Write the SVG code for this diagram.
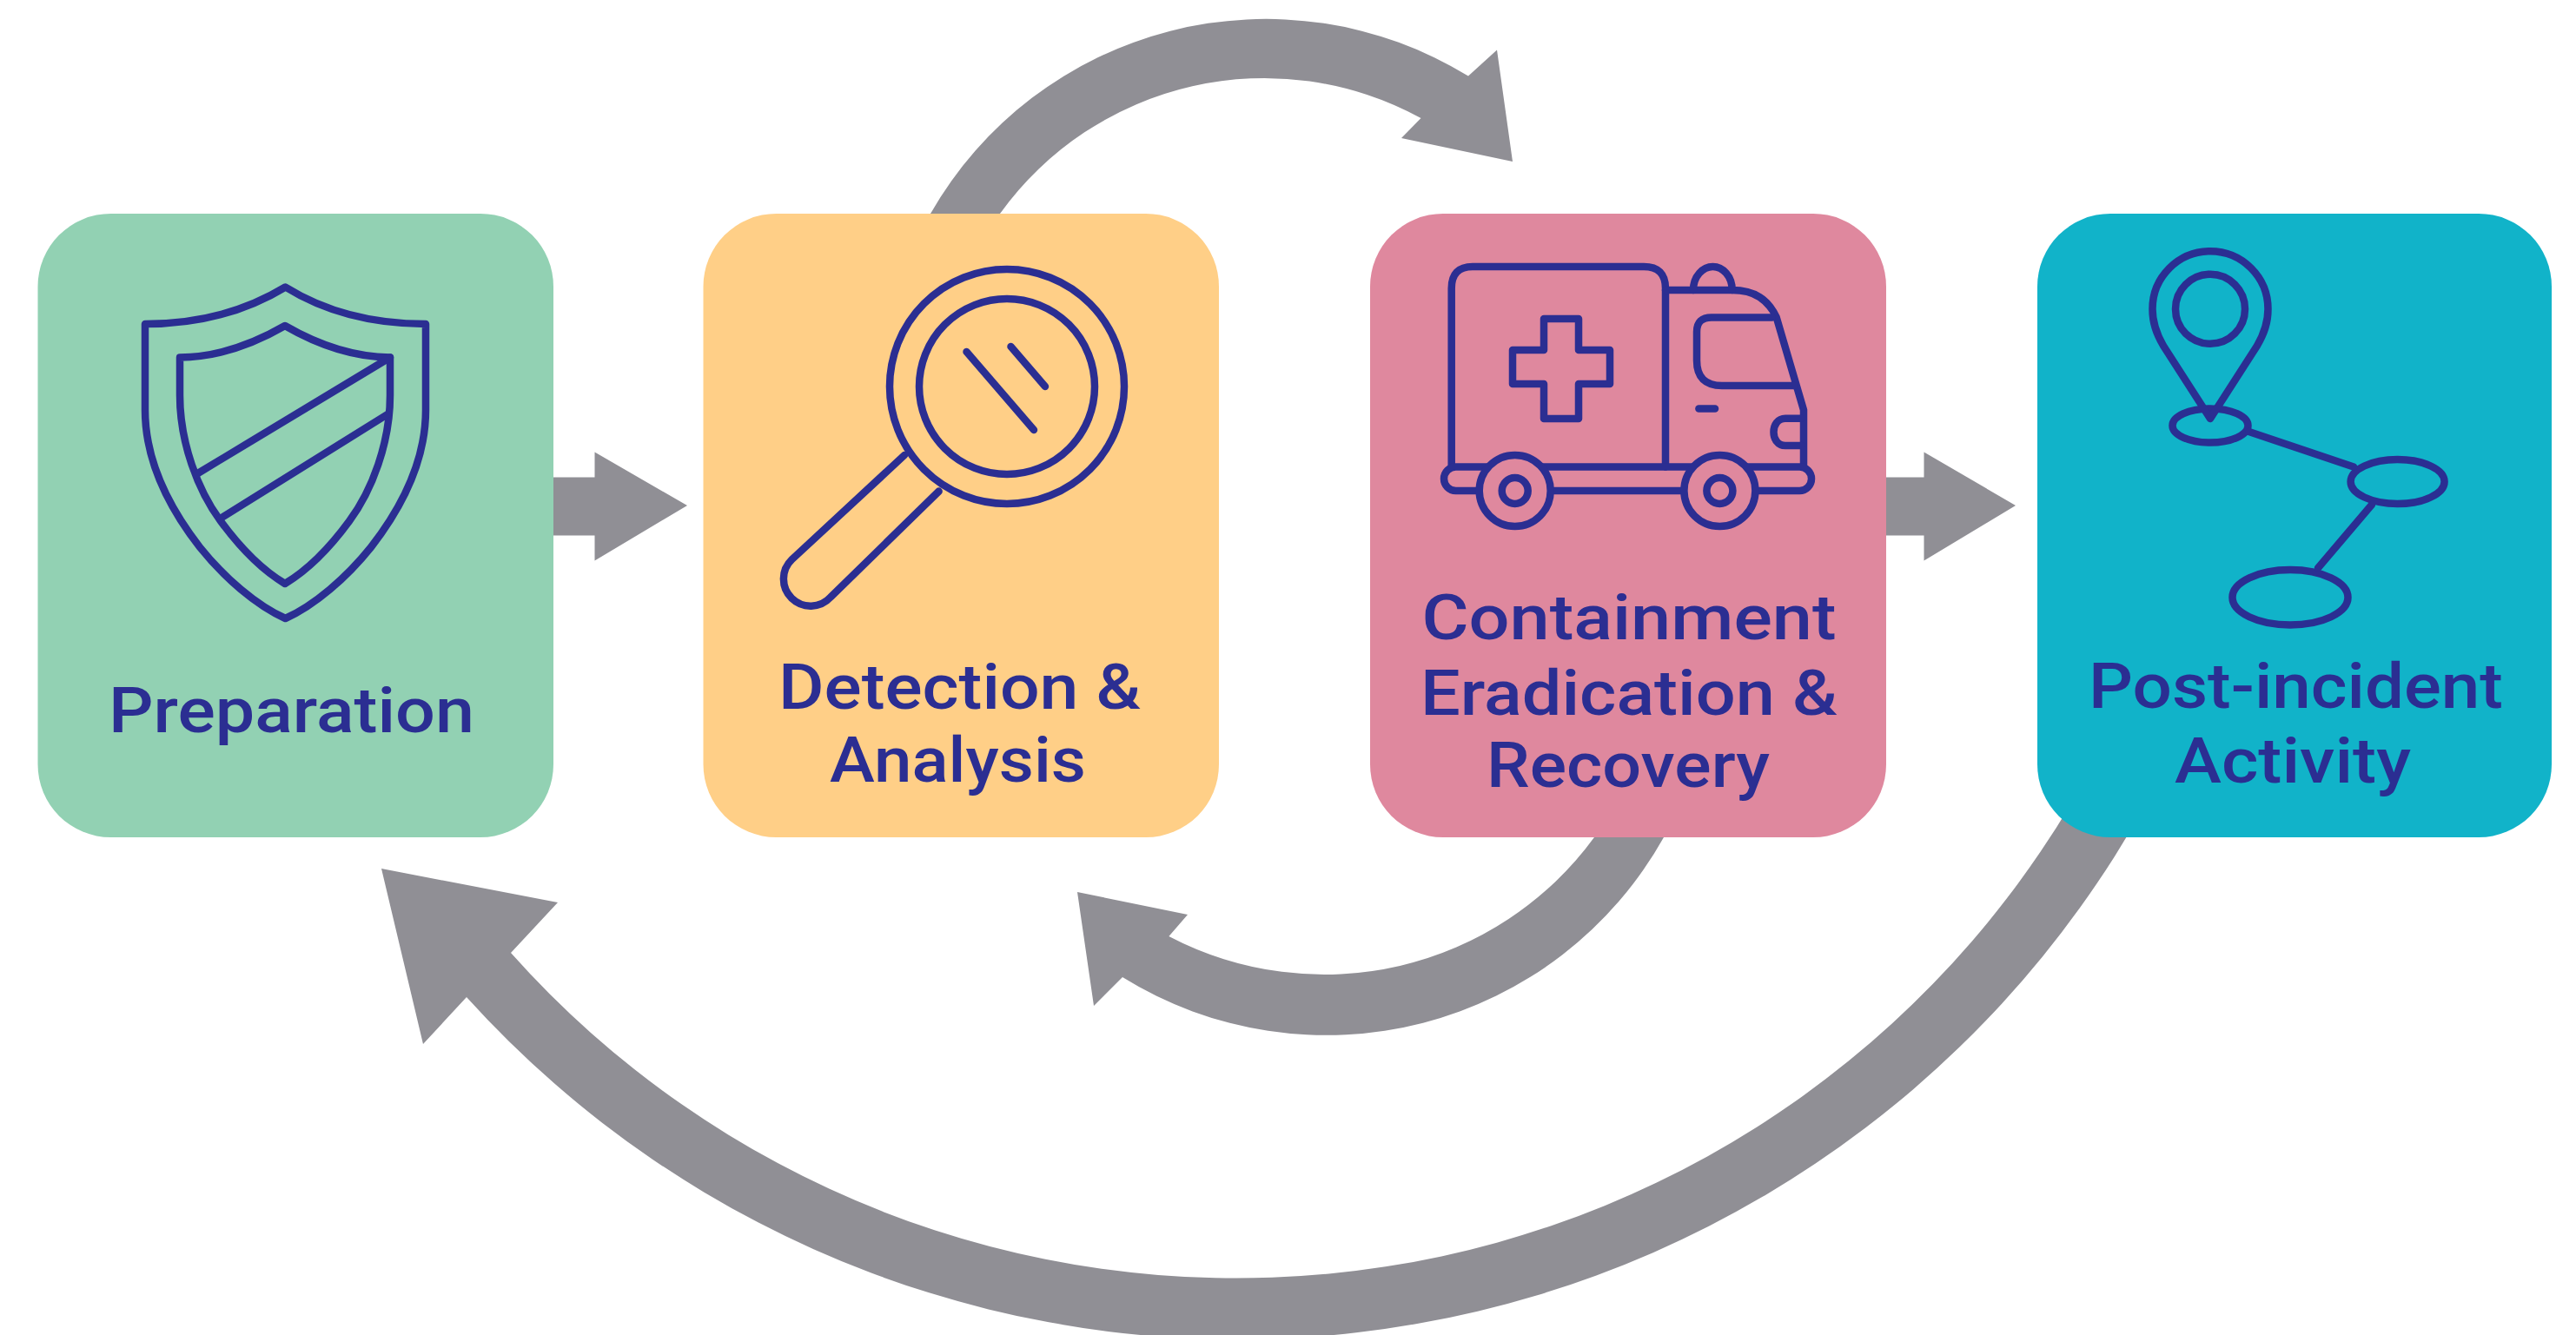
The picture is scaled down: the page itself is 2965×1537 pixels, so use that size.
<svg xmlns="http://www.w3.org/2000/svg" width="2965" height="1537" viewBox="0 0 2965 1537">
<style>
.arrow{fill:#908f95;stroke:none}
.box{stroke:none}
.ic{fill:none;stroke:#2b2e92;stroke-width:8.500;stroke-linejoin:round;stroke-linecap:round}
.lb{font-family:"Roboto","Lato","Liberation Sans",sans-serif;font-weight:500;font-size:72px;fill:#2b2e92;text-anchor:middle;font-variant-ligatures:none}
</style>
<rect width="2965" height="1537" fill="#ffffff"/>
<g id="connectors">
<path class="arrow" d="M630,549.600H684.500V520.500L791,582L684.500,645.600V616.500H630Z"/>
<path class="arrow" d="M2165,549.600H2214.500V520.500L2320,582L2214.500,645.600V616.500H2165Z"/>
<path class="arrow" d="M1071,246A445,445 0 0 1 1690,87.500L1723,57.500L1741,186L1613,159L1635.500,136A375,375 0 0 0 1151,246L1140,262H1062Z"/>
<path class="arrow" d="M1915,964A445,445 0 0 1 1292,1125L1259,1158L1240,1027L1367,1053L1345.400,1078A385,385 0 0 0 1835,964L1845,945H1925Z"/>
<path class="arrow" d="M2470,925A1195,1195 0 0 1 537,1148L487,1202L439,1000L642,1039L588,1097A1118,1118 0 0 0 2384,925Z"/>
</g>
<g id="node-preparation">
<rect class="box" x="43.500" y="246" width="593.500" height="718" rx="84" fill="#92d1b3"/>
<path class="ic" d="M328.500,330.500C280,360 225,373 167,373V472C167,530 195,585 230,630C258,665 295,697 328.500,712C362,697 399,665 427,630C462,585 490,530 490,472V373C431,373 376,360 328.500,330.500Z"/>
<path class="ic" d="M328,375C290,397 250,411 207,411.500V455C207,510 228,565 254,600C276,630 303,657 328,672C353,657 380,630 402,600C428,565 449,510 449,455V411.500C406,411 366,397 328,375Z"/>
<path class="ic" d="M449,411.500L226,546M446,477L253.600,597"/>
<text class="lb" x="335.500" y="843" textLength="421" lengthAdjust="spacingAndGlyphs">Preparation</text>
</g>
<g id="node-detection">
<rect class="box" x="809.500" y="246" width="593.500" height="718" rx="84" fill="#ffcf87"/>
<circle class="ic" cx="1159" cy="445" r="135"/>
<circle class="ic" cx="1159" cy="445" r="101"/>
<path class="ic" d="M1112.500,405L1190,495M1163.500,399L1203,445"/>
<path class="ic" d="M1041,524L911.600,644A31.100,31.100 0 1 0 956,687.500L1080.600,565.600"/>
<text class="lb" x="1104.500" y="815.600" textLength="417" lengthAdjust="spacingAndGlyphs">Detection &amp;</text>
<text class="lb" x="1102.500" y="900" textLength="295" lengthAdjust="spacingAndGlyphs">Analysis</text>
</g>
<g id="node-containment">
<rect class="box" x="1577" y="246" width="594" height="718" rx="84" fill="#df889e"/>
<path class="ic" d="M1670.700,537.500V332Q1670.700,307 1695,307H1892Q1917,307 1917,332V537.500"/>
<path class="ic" d="M1917,334H1993.700C2020,334 2035,345 2044.700,365.400L2076,472V537.500"/>
<path class="ic" d="M1949,334C1949,318 1960,307 1971.500,307C1983,307 1993.700,318 1993.700,334"/>
<path class="ic" d="M2039.600,365.400H1970Q1953,365.400 1953,382V415Q1953,444 1982,444H2065"/>
<path class="ic" d="M1955.400,470.600H1974"/>
<path class="ic" d="M2072.800,481.800H2055C2037,481.800 2037,513 2055,513H2072.800"/>
<path class="ic" d="M1777,367H1817V403H1853V442H1817V482H1777V442H1741V403H1777Z"/>
<rect class="ic" x="1662" y="537.500" width="423" height="27.500" rx="13.700"/>
<circle class="ic" cx="1743.700" cy="565" r="41" style="fill:#df889e"/>
<circle class="ic" cx="1743.700" cy="565" r="15"/>
<circle class="ic" cx="1979.400" cy="565" r="41" style="fill:#df889e"/>
<circle class="ic" cx="1979.400" cy="565" r="15"/>
<text class="lb" x="1875" y="736" textLength="477" lengthAdjust="spacingAndGlyphs">Containment</text>
<text class="lb" x="1875" y="822.500" textLength="480" lengthAdjust="spacingAndGlyphs">Eradication &amp;</text>
<text class="lb" x="1874" y="906" textLength="326" lengthAdjust="spacingAndGlyphs">Recovery</text>
</g>
<g id="node-post-incident">
<rect class="box" x="2345" y="246" width="592" height="718" rx="84" fill="#11b3c9"/>
<ellipse class="ic" cx="2544" cy="490" rx="43.500" ry="19.500"/>
<path class="ic" d="M2544,482L2490,398C2482,384 2477.500,372 2477.500,355.700A66.500,66.500 0 0 1 2610.500,355.700C2610.500,372 2606,384 2598,398Z"/>
<circle class="ic" cx="2544" cy="355.700" r="40"/>
<ellipse class="ic" cx="2759.600" cy="554.500" rx="54" ry="25.500"/>
<ellipse class="ic" cx="2636" cy="687.800" rx="66.500" ry="31.700"/>
<path class="ic" d="M2588.600,497L2709,537.500M2730,581L2668,654"/>
<text class="lb" x="2642.500" y="815" textLength="477" lengthAdjust="spacingAndGlyphs">Post-incident</text>
<text class="lb" x="2639" y="901" textLength="272" lengthAdjust="spacingAndGlyphs">Activity</text>
</g>
</svg>
